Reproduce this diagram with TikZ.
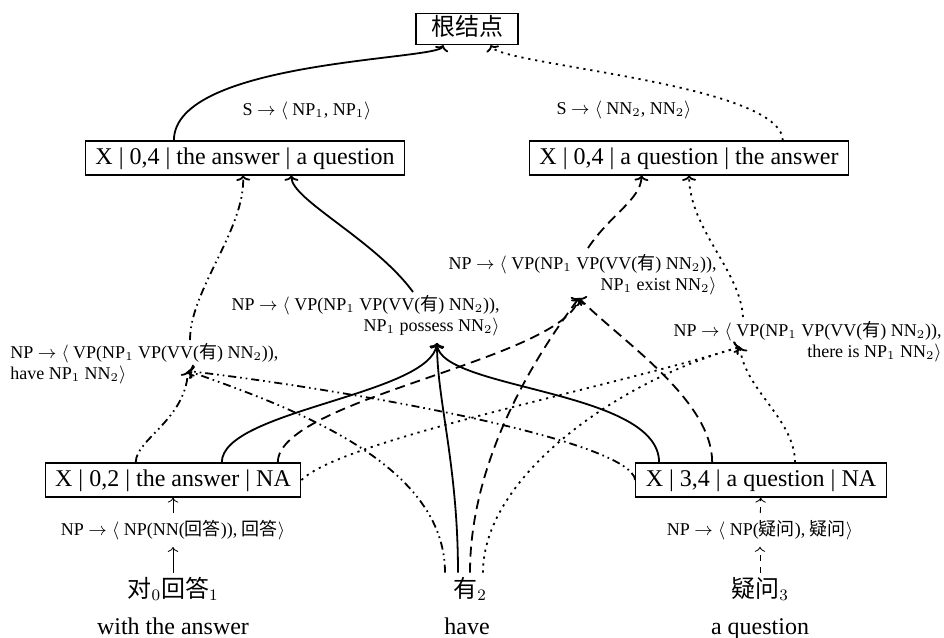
\documentclass[tikz,border=0pt]{standalone}
\usepackage[no-math]{fontspec}
\setmainfont{Liberation Serif}
\newfontfamily\cjk{Noto Sans CJK SC}
\newcommand\zh[1]{{\cjk #1}}
\usetikzlibrary{calc,arrows.meta}

\tikzset{
  box/.style={draw, line width=0.6pt, inner xsep=5pt, inner ysep=2.5pt,
    text height=9pt, text depth=3pt},
  word/.style={inner sep=3pt, text height=9pt, text depth=2pt},
  gloss/.style={inner sep=3pt, text height=9pt, text depth=2pt},
  rulelabel/.style={font=\fontsize{9}{10.5}\selectfont, inner sep=0pt},
  lexrule/.style={font=\fontsize{9}{10.5}\selectfont},
  edge/.style={line width=0.9pt, -{To[length=2.6pt,width=7pt]}},
  hsolid/.style={edge},
  hdashdot/.style={edge, dash pattern=on 4pt off 2pt on 0.8pt off 2pt on 0.8pt off 2pt},
  hdashed/.style={edge, dash pattern=on 5pt off 3pt},
  hdotted/.style={edge, dash pattern=on 1.1pt off 2.4pt},
  lexarrow/.style={->, line width=0.4pt},
}

\begin{document}
\begin{tikzpicture}[x=0.5pt, y=-0.5pt, font=\fontsize{12}{14}\selectfont]
\useasboundingbox (0,0) rectangle (944,638);

% hypergraph nodes
\node[box, inner xsep=7.5pt, inner ysep=1.8pt] (root) at (467,29) {\zh{根结点}};
\node[box] (L04) at (245,158) {X | 0,4 | the answer | a question};
\node[box] (R04) at (689,158) {X | 0,4 | a question | the answer};
\node[box] (L02) at (173,480) {X | 0,2 | the answer | NA};
\node[box] (R34) at (761,480) {X | 3,4 | a question | NA};

% source words and their glosses
\node[word] (w0) at (173,590) {\zh{对}$_0$\zh{回答}$_1$};
\node[word] (w2) at (470,590) {\zh{有}$_2$};
\node[word] (w3) at (760,590) {\zh{疑问}$_3$};
\node[gloss] (t0) at (173,627) {with the answer};
\node[gloss] (t2) at (467,627) {have};
\node[gloss] (t3) at (760,627) {a question};

% lexical rules
\node[lexrule] (r0) at (173,530) {NP $\rightarrow\langle$ NP(NN(\zh{回答})), \zh{回答}$\rangle$};
\node[lexrule] (r3) at (760,530) {NP $\rightarrow\langle$ NP(\zh{疑问}), \zh{疑问}$\rangle$};

\draw[lexarrow] (w0) -- (r0);
\draw[lexarrow] (r0) -- (L02);
\draw[lexarrow, dashed] (w3) -- (r3);
\draw[lexarrow, dashed] (r3) -- (R34);

% top-level rules
\node[rulelabel] (sL) at (307,111) {S $\rightarrow\langle$ NP$_1$, NP$_1\rangle$};
\node[rulelabel] (sR) at (624,110) {S $\rightarrow\langle$ NN$_2$, NN$_2\rangle$};

% hyperedge rule labels
\node[rulelabel, align=left, anchor=north west] (lab1) at (10,343)
  {NP $\rightarrow\langle$ VP(NP$_1$ VP(VV(\zh{有}) NN$_2$)),\\have NP$_1$ NN$_2\rangle$};
\node[rulelabel, align=right, anchor=north east] (lab2) at (500,295)
  {NP $\rightarrow\langle$ VP(NP$_1$ VP(VV(\zh{有}) NN$_2$)),\\NP$_1$ possess NN$_2\rangle$};
\node[rulelabel, align=right, anchor=north east] (lab3) at (717,254)
  {NP $\rightarrow\langle$ VP(NP$_1$ VP(VV(\zh{有}) NN$_2$)),\\NP$_1$ exist NN$_2\rangle$};
\node[rulelabel, align=right, anchor=north east] (lab4) at (942,321)
  {NP $\rightarrow\langle$ VP(NP$_1$ VP(VV(\zh{有}) NN$_2$)),\\there is NP$_1$ NN$_2\rangle$};

% hyperedge heads (where the tails meet) and their outgoing ends
\coordinate (h1) at (188,371);  \coordinate (h1o) at (190,340);
\coordinate (h2) at (437,343);  \coordinate (h2o) at (413,292);
\coordinate (h3) at (579,298);  \coordinate (h3o) at (588,248);
\coordinate (h4) at (740,347);  \coordinate (h4o) at (743,317);

% edges into the root
\draw[hsolid] ($(L04.north west)!0.278!(L04.north east)$)
  .. controls +(0,-80) and +(-6,15) .. ($(root.south west)!0.27!(root.south east)$);
\draw[hdotted] ($(R04.north west)!0.793!(R04.north east)$)
  .. controls +(-2,-57) and +(10,20) .. ($(root.south west)!0.73!(root.south east)$);

% hyperedges into the two spans 0,4
\draw[hdashdot] (h1o) .. controls +(0,-50) and +(2,54) .. ($(L04.south west)!0.494!(L04.south east)$);
\draw[hsolid]   (h2o) .. controls +(-38,-52) and +(0,24) .. ($(L04.south west)!0.645!(L04.south east)$);
\draw[hdashed]  (h3o) .. controls +(22,-33) and +(-1,24) .. ($(R04.south west)!0.352!(R04.south east)$);
\draw[hdotted]  (h4o) .. controls +(-3,-47) and +(1,54) .. ($(R04.south west)!0.5!(R04.south east)$);

% tails of hyperedge 1
\draw[hdashdot] ($(L02.north west)!0.355!(L02.north east)$) .. controls +(0,-23) and +(-3,49) .. (h1);
\draw[hdashdot] ($(w2.north)+(-25,0)$) .. controls +(0,-107) and +(112,39) .. (h1);
\draw[hdashdot] (R34.west) .. controls +(-5,-40) and +(162,19) .. (h1);

% tails of hyperedge 2
\draw[hsolid] ($(L02.north west)!0.69!(L02.north east)$) .. controls +(0,-52) and +(-7,52) .. (h2);
\draw[hsolid] ($(w2.north)+(-12,0)$) .. controls +(0,-107) and +(0,57) .. (h2);
\draw[hsolid] ($(R34.north west)!0.095!(R34.north east)$) .. controls +(0,-73) and +(3,47) .. (h2);

% tails of hyperedge 3
\draw[hdashed] ($(L02.north west)!0.908!(L02.north east)$) .. controls +(0,-63) and +(-19,62) .. (h3);
\draw[hdashed] ($(w2.north)+(0,0)$) .. controls +(0,-117) and +(-39,52) .. (h3);
\draw[hdashed] ($(R34.north west)!0.306!(R34.north east)$) .. controls +(0,-63) and +(41,42) .. (h3);

% tails of hyperedge 4
\draw[hdotted] (L02.east) .. controls +(41,-40) and +(-140,43) .. (h4);
\draw[hdotted] ($(w2.north)+(13,0)$) .. controls +(0,-97) and +(-120,33) .. (h4);
\draw[hdotted] ($(R34.north west)!0.635!(R34.north east)$) .. controls +(0,-43) and +(5,43) .. (h4);
\end{tikzpicture}
\end{document}
